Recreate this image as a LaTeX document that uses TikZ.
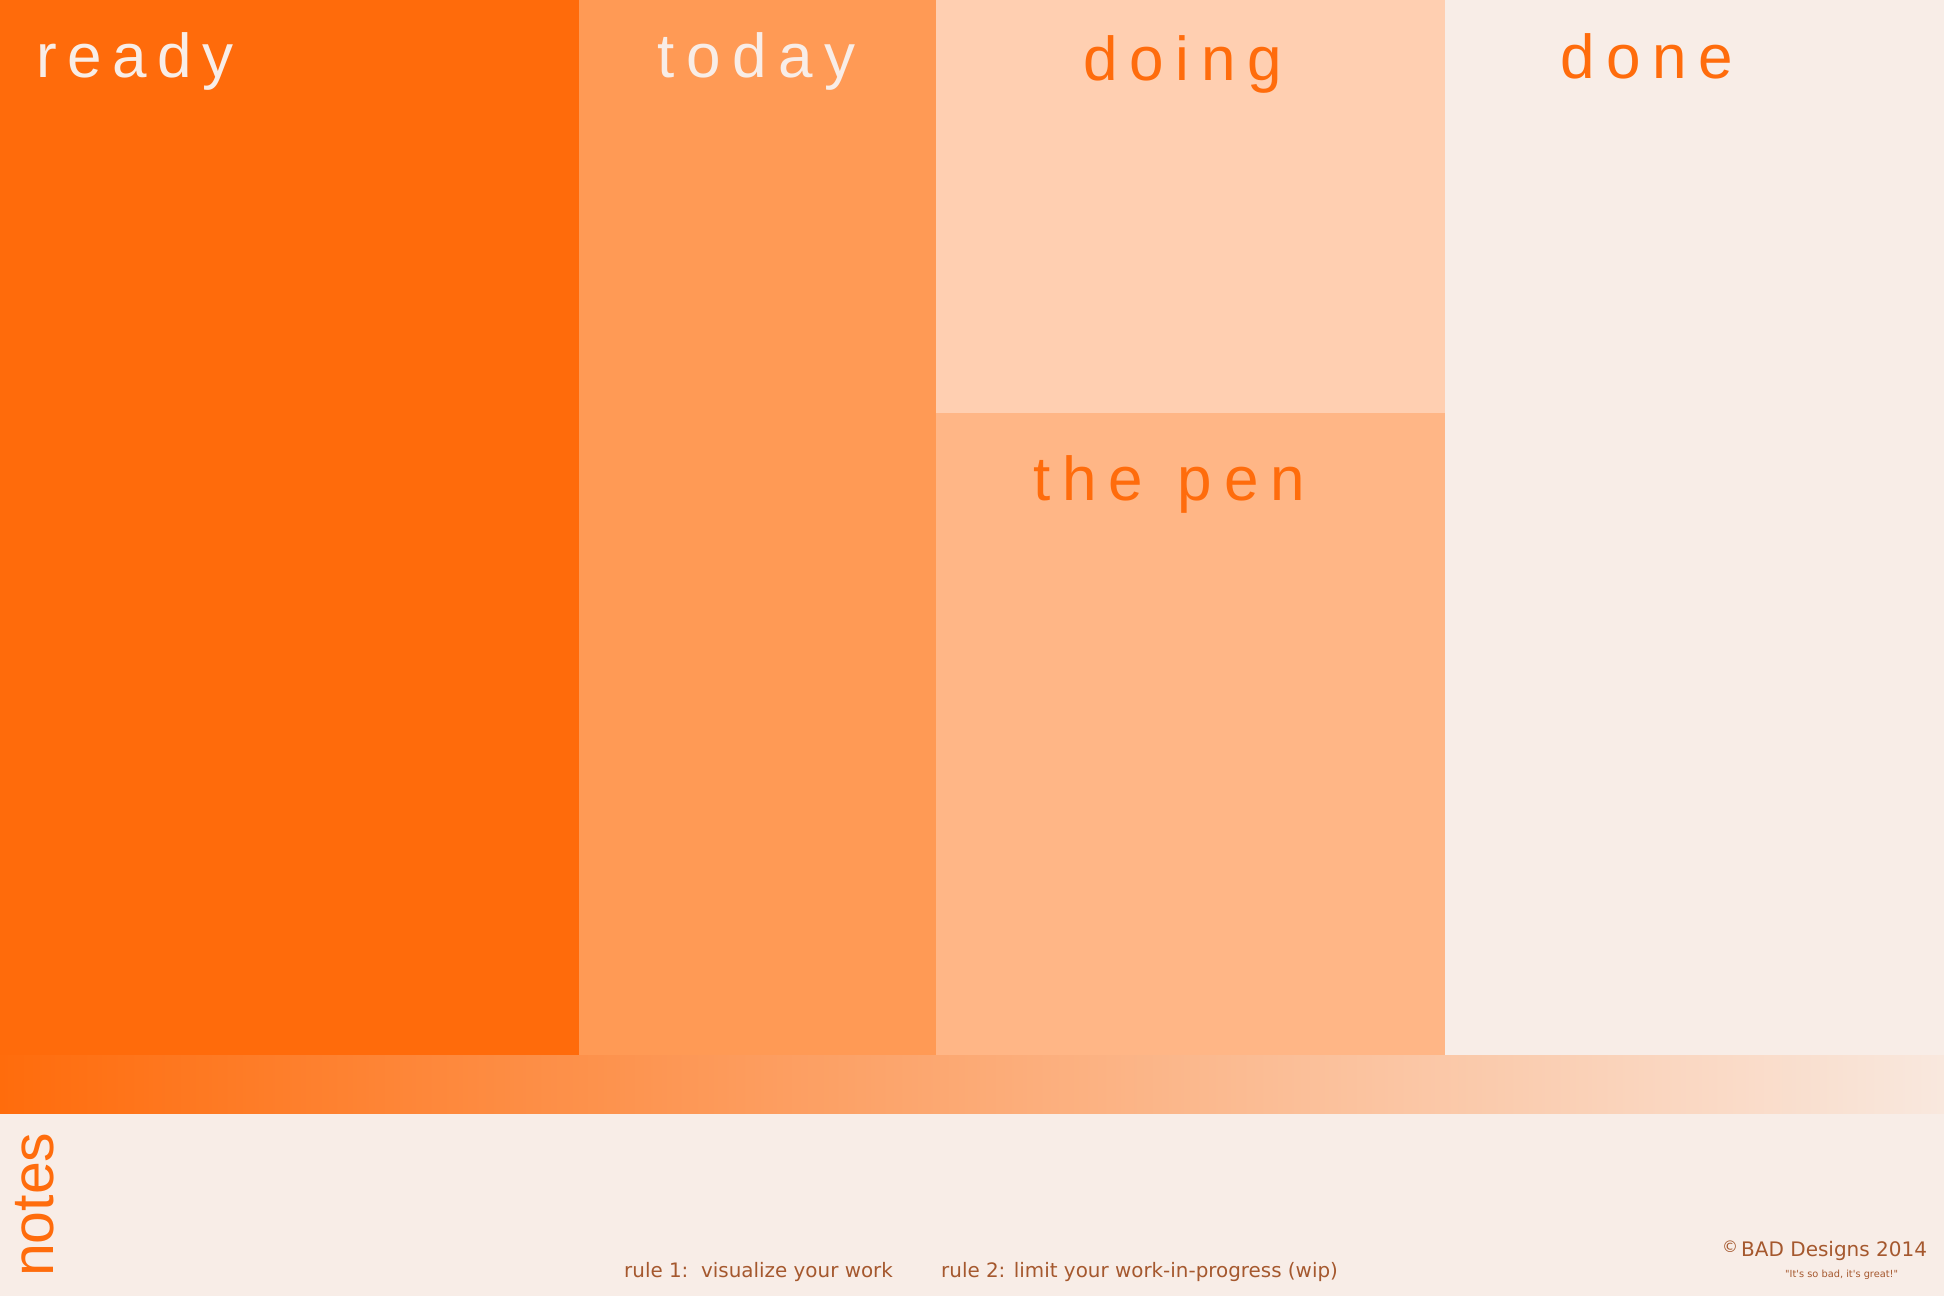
\documentclass[tikz,border=0pt]{standalone}
\usepackage{fontspec}
\setmainfont{Liberation Sans}
\newfontfamily\titlefont[LetterSpace=19]{Liberation Sans}
\newfontfamily\readyfont[LetterSpace=17]{Liberation Sans}
\newfontfamily\notefont{Liberation Sans}
\newfontfamily\rulefont{DejaVu Sans}
\definecolor{readyc}{HTML}{FF6B0B}
\definecolor{todayc}{HTML}{FF9A55}
\definecolor{doingc}{HTML}{FFCFB1}
\definecolor{penc}{HTML}{FFB686}
\definecolor{bgc}{HTML}{F8EDE7}
\definecolor{orangetxt}{HTML}{FF6C0C}
\definecolor{browntxt}{HTML}{A5582E}
\tikzset{
  title/.style={inner sep=0pt, anchor=base west, font=\titlefont\fontsize{62}{62}\selectfont},
  ruletxt/.style={inner sep=0pt, anchor=base west, text=browntxt, font=\rulefont\fontsize{19.9}{21}\selectfont},
}
\begin{document}
\begin{tikzpicture}[x=1pt,y=-1pt]
\fill[bgc] (0,0) rectangle (1944,1296);
\useasboundingbox (0,0) rectangle (1944,1296);
% columns
\fill[readyc] (0,0) rectangle (579,1055);
\fill[todayc] (579,0) rectangle (936,1055);
\fill[doingc] (936,0) rectangle (1445,413);
\fill[penc] (936,413) rectangle (1445,1055);
% gradient bar
\shade[left color=orangetxt, middle color=todayc, right color={rgb,255:red,249;green,232;blue,222}] (0,1055) rectangle (1944,1113);
% titles
\node[title, text=bgc, font=\readyfont\fontsize{62}{62}\selectfont] (ready) at (36,77) {ready};
\node[title, text=bgc] (today) at (657,77) {today};
\node[title, text=orangetxt] (doing) at (1083,80) {doing};
\node[title, text=orangetxt] (done) at (1560,78) {done};
\node[title, text=orangetxt] (pen) at (1033,500) {the\hspace{6pt} pen};
% notes
\node[inner sep=0pt, anchor=base west, rotate=90, text=orangetxt, font=\notefont\fontsize{59}{59}\selectfont] (notes) at (53,1277) {notes};
% rules
\node[ruletxt] (rule1) at (624,1277) {rule 1:\ \ visualize your work};
\node[ruletxt] (rule2) at (941,1277) {rule 2: limit your work-in-progress (wip)};
% copyright
\node[inner sep=0pt, anchor=base west, text=browntxt, font=\rulefont\fontsize{16}{16}\selectfont] (copy) at (1722,1252) {©};
\node[inner sep=0pt, anchor=base west, text=browntxt, font=\rulefont\fontsize{20}{21}\selectfont] (bad) at (1741,1256) {BAD Designs 2014};
\node[inner sep=0pt, anchor=base west, text=browntxt, font=\rulefont\fontsize{9.8}{10}\selectfont] (quote) at (1785,1277) {"It's so bad, it's great!"};
\end{tikzpicture}
\end{document}
